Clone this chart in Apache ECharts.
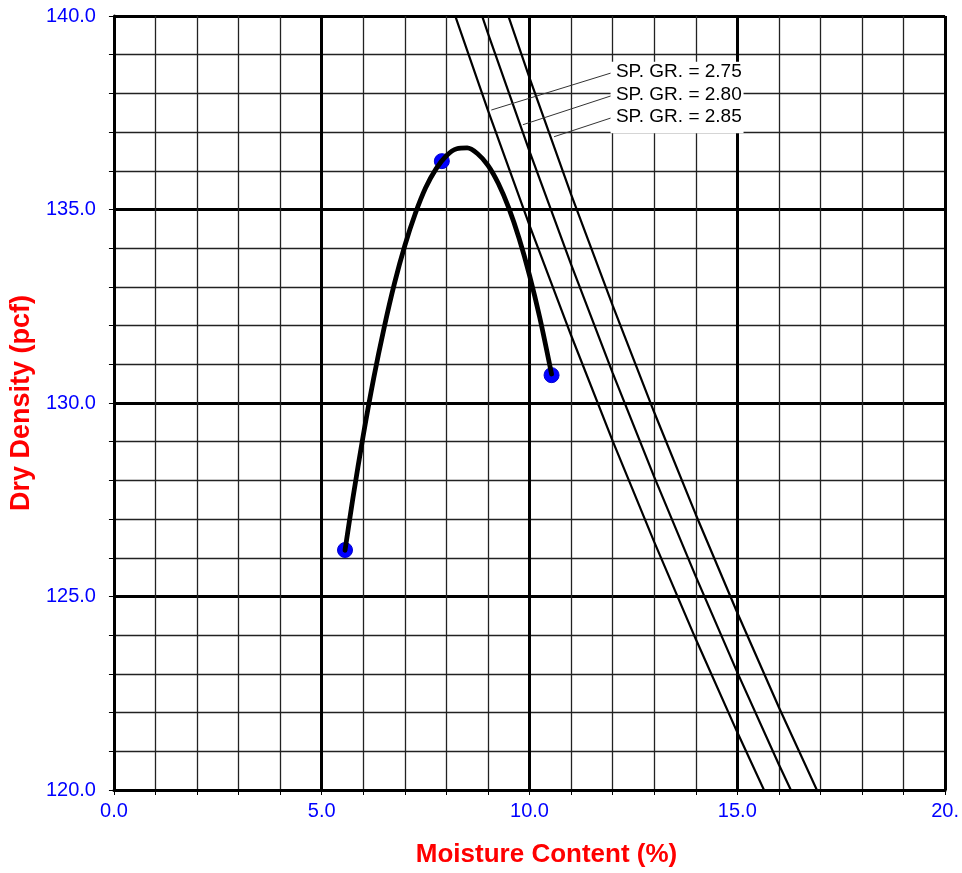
<!DOCTYPE html>
<html>
<head>
<meta charset="utf-8">
<script src="https://cdn.jsdelivr.net/npm/echarts@6/dist/echarts.min.js"></script>
<style>
html,body{margin:0;padding:0;background:#fff;}
#chart{width:962px;height:873px;}
</style>
</head>
<body>
<div id="chart"></div>
<script>
// Test points (moisture %, dry density pcf)
var testMoisture = [5.56, 7.89, 10.53];
var testDensity  = [126.2, 136.25, 130.72];

// Compaction curve
var curveMoisture = [5.56, 5.75, 6.0, 6.25, 6.5, 6.75, 7.0, 7.25, 7.5, 7.75, 8.0, 8.25, 8.5, 8.75, 9.0, 9.25, 9.5, 9.75, 10.0, 10.25, 10.53];
var curveDensity  = [126.19, 127.54, 129.17, 130.64, 131.94, 133.09, 134.07, 134.89, 135.56, 136.05, 136.39, 136.57, 136.59, 136.44, 136.14, 135.67, 135.04, 134.25, 133.3, 132.19, 130.75];

// Zero-air-voids lines
var zavMoisture = [8, 9, 10, 11, 12, 13, 14, 15, 16, 17];
var zav275 = [140.66, 137.56, 134.59, 131.75, 129.02, 126.41, 123.90, 121.49, 119.17, 116.95];
var zav280 = [142.75, 139.55, 136.50, 133.58, 130.78, 128.09, 125.52, 123.04, 120.66, 118.37];
var zav285 = [144.85, 141.54, 138.40, 135.39, 132.52, 129.76, 127.12, 124.58, 122.14, 119.80];
var zavNames = ['SP. GR. = 2.75', 'SP. GR. = 2.80', 'SP. GR. = 2.85'];

// Leader lines: [label anchor, point on line]
var leaderStart = [[12.03, 138.55], [12.03, 137.96], [12.03, 137.39]];
var leaderEnd   = [[9.08, 137.57], [9.84, 137.19], [10.59, 136.88]];

var xTickLabels = {0: '0.0', 5: '5.0', 10: '10.0', 15: '15.0', 20: '20.'};
var yTickLabels = {120: '120.0', 125: '125.0', 130: '130.0', 135: '135.0', 140: '140.0'};

function zip(a, b) { return a.map(function (v, i) { return [v, b[i]]; }); }

var FONT = "'Liberation Sans', Arial, sans-serif";
var chart = echarts.init(document.getElementById('chart'));

function zavSeries(vals, idx) {
  return {
    type: 'line', data: zip(zavMoisture, vals), symbol: 'none', z: 3,
    lineStyle: { color: '#000', width: 2.2 }, clip: true, silent: true,
    markLine: {
      silent: true, symbol: 'none', label: { show: false },
      lineStyle: { color: '#333', width: 1, type: 'solid' },
      data: [[{ coord: leaderStart[idx] }, { coord: leaderEnd[idx] }]]
    }
  };
}

var option = {
  animation: false,
  backgroundColor: '#fff',
  grid: { left: 113, right: 15, top: 16, bottom: 82, containLabel: false },
  xAxis: {
    type: 'value', min: 0, max: 20, interval: 5,
    name: 'Moisture Content (%)', nameLocation: 'middle', nameGap: 52,
    nameTextStyle: { color: '#ff0000', fontWeight: 'bold', fontSize: 26, fontFamily: FONT, padding: [0, 0, 0, 34] },
    axisLine: { show: true, onZero: false, lineStyle: { color: '#000', width: 3 } },
    axisTick: { show: true, length: 5, lineStyle: { color: '#000', width: 1 } },
    minorTick: { show: true, splitNumber: 5, length: 5, lineStyle: { color: '#000', width: 1 } },
    axisLabel: { color: '#0000ff', fontSize: 20, fontFamily: FONT, margin: 11,
      formatter: function (v) { return xTickLabels[v] !== undefined ? xTickLabels[v] : ''; } },
    splitLine: { show: true, lineStyle: { color: '#000', width: 3 } },
    minorSplitLine: { show: true, lineStyle: { color: '#222', width: 1.3 } }
  },
  yAxis: {
    type: 'value', min: 120, max: 140, interval: 5,
    name: 'Dry Density (pcf)', nameLocation: 'middle', nameGap: 78,
    nameTextStyle: { color: '#ff0000', fontWeight: 'bold', fontSize: 27, fontFamily: FONT },
    axisLine: { show: true, onZero: false, lineStyle: { color: '#000', width: 3 } },
    axisTick: { show: true, length: 5, lineStyle: { color: '#000', width: 1 } },
    minorTick: { show: true, splitNumber: 5, length: 5, lineStyle: { color: '#000', width: 1 } },
    axisLabel: { color: '#0000ff', fontSize: 20, fontFamily: FONT, margin: 18,
      formatter: function (v) { return yTickLabels[v] !== undefined ? yTickLabels[v] : ''; } },
    splitLine: { show: true, lineStyle: { color: '#000', width: 3 } },
    minorSplitLine: { show: true, lineStyle: { color: '#222', width: 1.3 } }
  },
  series: [
    zavSeries(zav275, 0),
    zavSeries(zav280, 1),
    zavSeries(zav285, 2),
    {
      type: 'scatter', data: zip(testMoisture, testDensity), symbol: 'circle', symbolSize: 15, z: 4,
      itemStyle: { color: '#0000ff', borderColor: '#0000d0', borderWidth: 1, opacity: 1 }, silent: true
    },
    {
      type: 'line', data: zip(curveMoisture, curveDensity), symbol: 'none', smooth: 0.3, z: 5,
      lineStyle: { color: '#000', width: 4.8, cap: 'round', join: 'round' }, silent: true
    }
  ]
};
chart.setOption(option);

// Label box placed in data coordinates
var boxTL = chart.convertToPixel({ gridIndex: 0 }, [11.95, 138.82]);
var boxBR = chart.convertToPixel({ gridIndex: 0 }, [15.15, 136.97]);
var texts = zavNames.map(function (t, i) {
  var p = chart.convertToPixel({ gridIndex: 0 }, leaderStart[i]);
  return {
    type: 'text', z: 20,
    style: { text: t, x: p[0] + 2, y: p[1], fill: '#000', fontSize: 19, fontFamily: FONT, verticalAlign: 'middle', align: 'left' }
  };
});
chart.setOption({
  graphic: [{
    type: 'rect', z: 19,
    shape: { x: boxTL[0], y: boxTL[1], width: boxBR[0] - boxTL[0], height: boxBR[1] - boxTL[1] },
    style: { fill: '#fff' }
  }].concat(texts)
});
</script>
</body>
</html>
